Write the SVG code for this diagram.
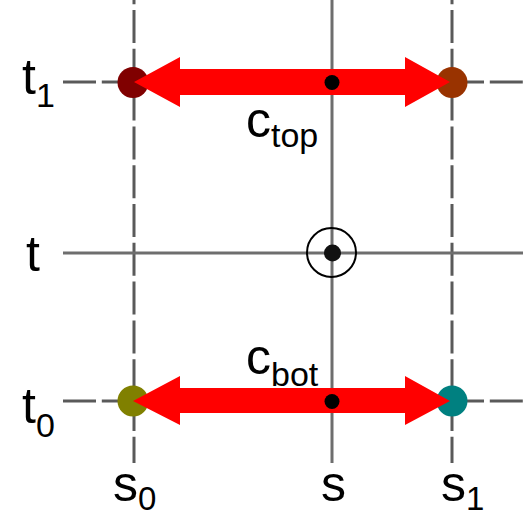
<svg xmlns="http://www.w3.org/2000/svg" width="523" height="517" viewBox="0 0 523 517">
<style>
.grid{stroke:#5a5a5a;stroke-width:3;fill:none}
.dh{stroke-dasharray:33 5.8}
.dv{stroke-dasharray:33 5.8;stroke-dashoffset:28.8}
.arrow{fill:#ff0000}
.lbl{font-family:"Liberation Sans",Arial,sans-serif;font-size:50px;fill:#000}
.sub{font-size:34px}
.sb{font-size:33px}
.dot{fill:#000}
</style>
<rect width="523" height="517" fill="#fff"/>
<g id="grid">
<line class="grid dv" x1="134" y1="0" x2="134" y2="463"/>
<line class="grid" x1="332" y1="0" x2="332" y2="463" style="stroke:#6e6e6e"/>
<line class="grid dv" x1="452" y1="0" x2="452" y2="463"/>
<line class="grid dh" x1="63" y1="82" x2="523" y2="82"/>
<line class="grid" x1="63" y1="253" x2="523" y2="253" style="stroke:#6e6e6e"/>
<line class="grid dh" x1="63" y1="401" x2="523" y2="401"/>
</g>
<g id="p-top-left"><circle cx="133" cy="82.5" r="15.5" fill="#800000"/></g>
<g id="p-top-right"><circle cx="452" cy="82.5" r="15.5" fill="#993300"/></g>
<g id="p-bot-left"><circle cx="133" cy="401" r="15.5" fill="#808000"/></g>
<g id="p-bot-right"><circle cx="452" cy="401" r="15.5" fill="#008080"/></g>
<g id="connectors">
<polygon class="arrow" points="134,82 180,57 180,69 405,69 405,57 450,82 405,107 405,95 180,95 180,107"/>
<polygon class="arrow" points="133,401 180,376 180,388 405,388 405,376 450,401 405,425 405,413 180,413 180,425"/>
</g>
<g id="c-top-mid"><circle class="dot" cx="332" cy="82.5" r="7.5"/></g>
<g id="c-bot-mid"><circle class="dot" cx="332" cy="401.5" r="7.5"/></g>
<g id="center">
<circle cx="331.5" cy="252.5" r="24.5" fill="none" stroke="#000" stroke-width="2"/>
<circle cx="332.5" cy="253" r="8.5" fill="#111"/>
</g>
<g id="labels">
<text class="lbl" x="22" y="94">t<tspan class="sub" dy="13">1</tspan></text>
<text class="lbl" x="26" y="271">t</text>
<text class="lbl" x="22" y="423">t<tspan class="sub" dy="14">0</tspan></text>
<text class="lbl" x="113" y="501">s<tspan class="sb" dy="9">0</tspan></text>
<text class="lbl" x="321" y="501">s</text>
<text class="lbl" x="441" y="501">s<tspan class="sb" dy="9">1</tspan></text>
<text class="lbl" x="246" y="137">c<tspan class="sub" dy="10">top</tspan></text>
<text class="lbl" x="246" y="374">c<tspan class="sub" dy="12">bot</tspan></text>
</g>
</svg>
